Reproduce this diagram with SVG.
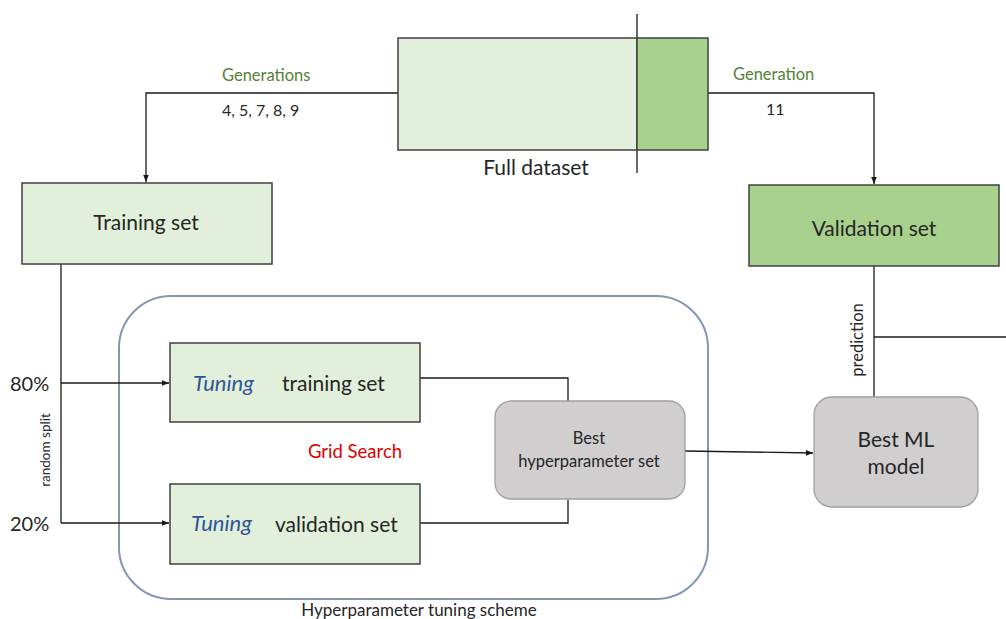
<svg xmlns="http://www.w3.org/2000/svg" width="1006" height="619" viewBox="0 0 1006 619">
<style>
text{font-family:Lato,"Liberation Sans",sans-serif;fill:#262626}
.box{stroke:#404040;stroke-width:1.5}
.light{fill:#e2efda}
.dark{fill:#a9d18e}
.grey{fill:#d0cece;stroke:#a0a0a0;stroke-width:1.3}
.ln{fill:none;stroke:#1a1a1a;stroke-width:1.3}
.gen{fill:#538135;font-size:16.5px}
.num{font-size:16px}
.big{font-size:21px}
.tun{fill:#2f5597;font-style:italic;font-size:22px}
</style>
<defs>
<marker id="ah" viewBox="0 0 10 10" refX="10" refY="5" markerWidth="7" markerHeight="7" orient="auto" markerUnits="userSpaceOnUse">
<path d="M0,1 L10,5 L0,9 z" fill="#1a1a1a"/>
</marker>
</defs>
<rect width="1006" height="619" fill="#fff"/>

<g id="container">
<rect x="119" y="296" width="589" height="303" rx="52" fill="none" stroke="#8497b0" stroke-width="2"/>
<text x="419" y="616" text-anchor="middle" style="font-size:17px">Hyperparameter tuning scheme</text>
</g>

<g id="connectors">
<polyline class="ln" points="398,93 146,93 146,182" marker-end="url(#ah)"/>
<polyline class="ln" points="708,93 874,93 874,184" marker-end="url(#ah)"/>
<polyline class="ln" points="61,264 61,523"/>
<line class="ln" x1="61" y1="383" x2="169" y2="383" marker-end="url(#ah)"/>
<line class="ln" x1="61" y1="523" x2="169" y2="523" marker-end="url(#ah)"/>
<polyline class="ln" points="420,378 568,378 568,401"/>
<polyline class="ln" points="420,523 568,523 568,499"/>
<line class="ln" x1="685" y1="451" x2="813" y2="453" marker-end="url(#ah)"/>
<line class="ln" x1="874" y1="266" x2="874" y2="397"/>
<line class="ln" x1="874" y1="337" x2="1006" y2="337"/>
<line class="ln" x1="637" y1="14" x2="637" y2="173"/>
</g>

<g id="labels">
<text class="gen" x="222" y="81">Generations</text>
<text class="num" x="222" y="116">4, 5, 7, 8, 9</text>
<text class="gen" x="733" y="80">Generation</text>
<text class="num" x="766" y="115">11</text>
<text x="10" y="391" style="font-size:20px">80%</text>
<text x="10" y="531" style="font-size:20px">20%</text>
<text transform="translate(50,450) rotate(-90)" text-anchor="middle" style="font-size:13.5px">random split</text>
<text transform="translate(863,340) rotate(-90)" text-anchor="middle" style="font-size:16.5px">prediction</text>
<text x="355" y="458" text-anchor="middle" style="font-size:18.5px;fill:#e00000">Grid Search</text>
</g>

<g id="full-dataset">
<rect class="box light" x="398" y="38" width="239" height="112"/>
<rect class="box dark" x="637" y="38" width="71" height="112"/>
<text x="536" y="175" text-anchor="middle" style="font-size:21px">Full dataset</text>
</g>

<g id="training-set">
<rect class="box light" x="22" y="183" width="250" height="81"/>
<text class="big" x="146" y="230" text-anchor="middle">Training set</text>
</g>

<g id="validation-set">
<rect class="box dark" x="749" y="185" width="250" height="81"/>
<text class="big" x="874" y="236" text-anchor="middle">Validation set</text>
</g>

<g id="tuning-training">
<rect class="box light" x="170" y="343" width="250" height="79"/>
<text class="tun" x="193" y="391">Tuning</text>
<text class="big" x="282" y="391">training set</text>
</g>

<g id="tuning-validation">
<rect class="box light" x="170" y="484" width="250" height="80"/>
<text class="tun" x="191" y="531">Tuning</text>
<text class="big" x="275" y="532">validation set</text>
</g>

<g id="best-hyper">
<rect class="grey" x="495" y="401" width="190" height="98" rx="16"/>
<text x="589" y="444" text-anchor="middle" style="font-size:16.5px">Best</text>
<text x="589" y="467" text-anchor="middle" style="font-size:16.5px">hyperparameter set</text>
</g>

<g id="best-ml">
<rect class="grey" x="814" y="397" width="164" height="110" rx="18"/>
<text class="big" x="896" y="447" text-anchor="middle">Best ML</text>
<text class="big" x="896" y="474" text-anchor="middle">model</text>
</g>
</svg>
